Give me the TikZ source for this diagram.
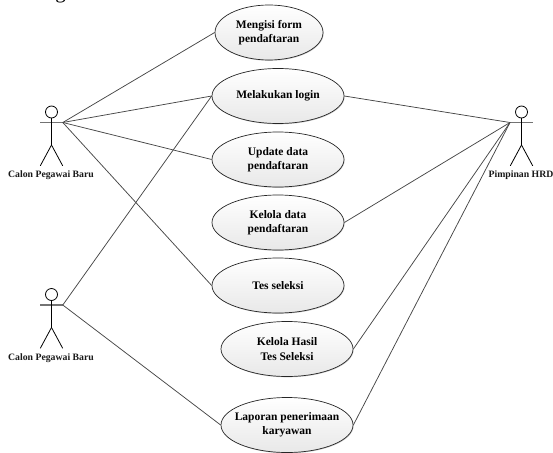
\documentclass[tikz,border=0pt]{standalone}
\usepackage{fontspec}
\setmainfont{Liberation Serif}
\usetikzlibrary{shapes.geometric,shadows,calc}
\tikzset{
  uc/.style={draw=black!85,line width=0.7pt,ellipse,minimum width=132pt,minimum height=55pt,inner sep=0pt,align=center,
    top color=white,bottom color=black!9,font=\bfseries\fontsize{11.5}{14.4}\selectfont,text=black,
    general shadow={fill=black!20,shadow xshift=0.6pt,shadow yshift=-0.8pt}},
  actorline/.style={draw=black,line width=0.8pt},
  armline/.style={draw=black!55,line width=1.1pt},
  link/.style={draw=black!72,line width=0.75pt},
  lab/.style={font=\bfseries\fontsize{9.75}{11}\selectfont,text=black!90,inner sep=0pt}
}
\newcommand{\stickman}[3]{%
  \node[actorline,circle,minimum size=12pt,inner sep=0pt] (#1head) at (#2,#3) {};
  \coordinate (#1neck) at (#2,#3+6);
  \coordinate (#1hip) at (#2,#3+33);
  \coordinate (#1armL) at (#2-11.5,#3+10.5);
  \coordinate (#1arm) at (#2+11.3,#3+10.5);
  \draw[armline] (#1armL) -- (#1arm);
  \draw[actorline] (#1neck) -- (#1hip);
  \draw[actorline] (#1hip) -- ++(-11.2,20.8);
  \draw[actorline] (#1hip) -- ++(11.2,20.8);
}
\begin{document}
\begin{tikzpicture}[x=1pt,y=-1pt]
\useasboundingbox (0,0) rectangle (553,452);
\clip (0,0) rectangle (553,452);
\node[anchor=base,font=\fontsize{21}{24}\selectfont,inner sep=0pt] (cut) at (60.5,-1.5) {g};
\node[uc,minimum width=108pt] (u1) at (269,32.5) {Mengisi form\\pendaftaran};
\node[uc] (u2) at (278,96) {Melakukan login};
\node[uc] (u3) at (278,159.5) {Update data\\pendaftaran};
\node[uc] (u4) at (278,222.5) {Kelola data\\pendaftaran};
\node[uc] (u5) at (278,285.5) {Tes seleksi};
\node[uc] (u6) at (287,349) {Kelola Hasil\\Tes Seleksi};
\node[uc,inner xsep=-15pt] (u7) at (287,425) {Laporan penerimaan\\karyawan};
\stickman{a}{51.5}{112}
\stickman{b}{51.5}{294.5}
\stickman{c}{521.5}{112}
\node[lab] (la) at (51,175) {Calon Pegawai Baru};
\node[lab] (lb) at (51,357.7) {Calon Pegawai Baru};
\node[lab] (lc) at (521,175) {Pimpinan HRD};
\draw[link] (aarm) -- (u1.west);
\draw[link] (aarm) -- (u2.west);
\draw[link] (aarm) -- (u3.west);
\draw[link] (aarm) -- (u5.west);
\draw[link] (barm) -- (u2.west);
\draw[link] (barm) -- (u7.west);
\draw[link] (carmL) -- (u2.east);
\draw[link] (carmL) -- (u4.east);
\draw[link] (carmL) -- (u6.east);
\draw[link] (carmL) -- (u7.east);
\end{tikzpicture}
\end{document}
